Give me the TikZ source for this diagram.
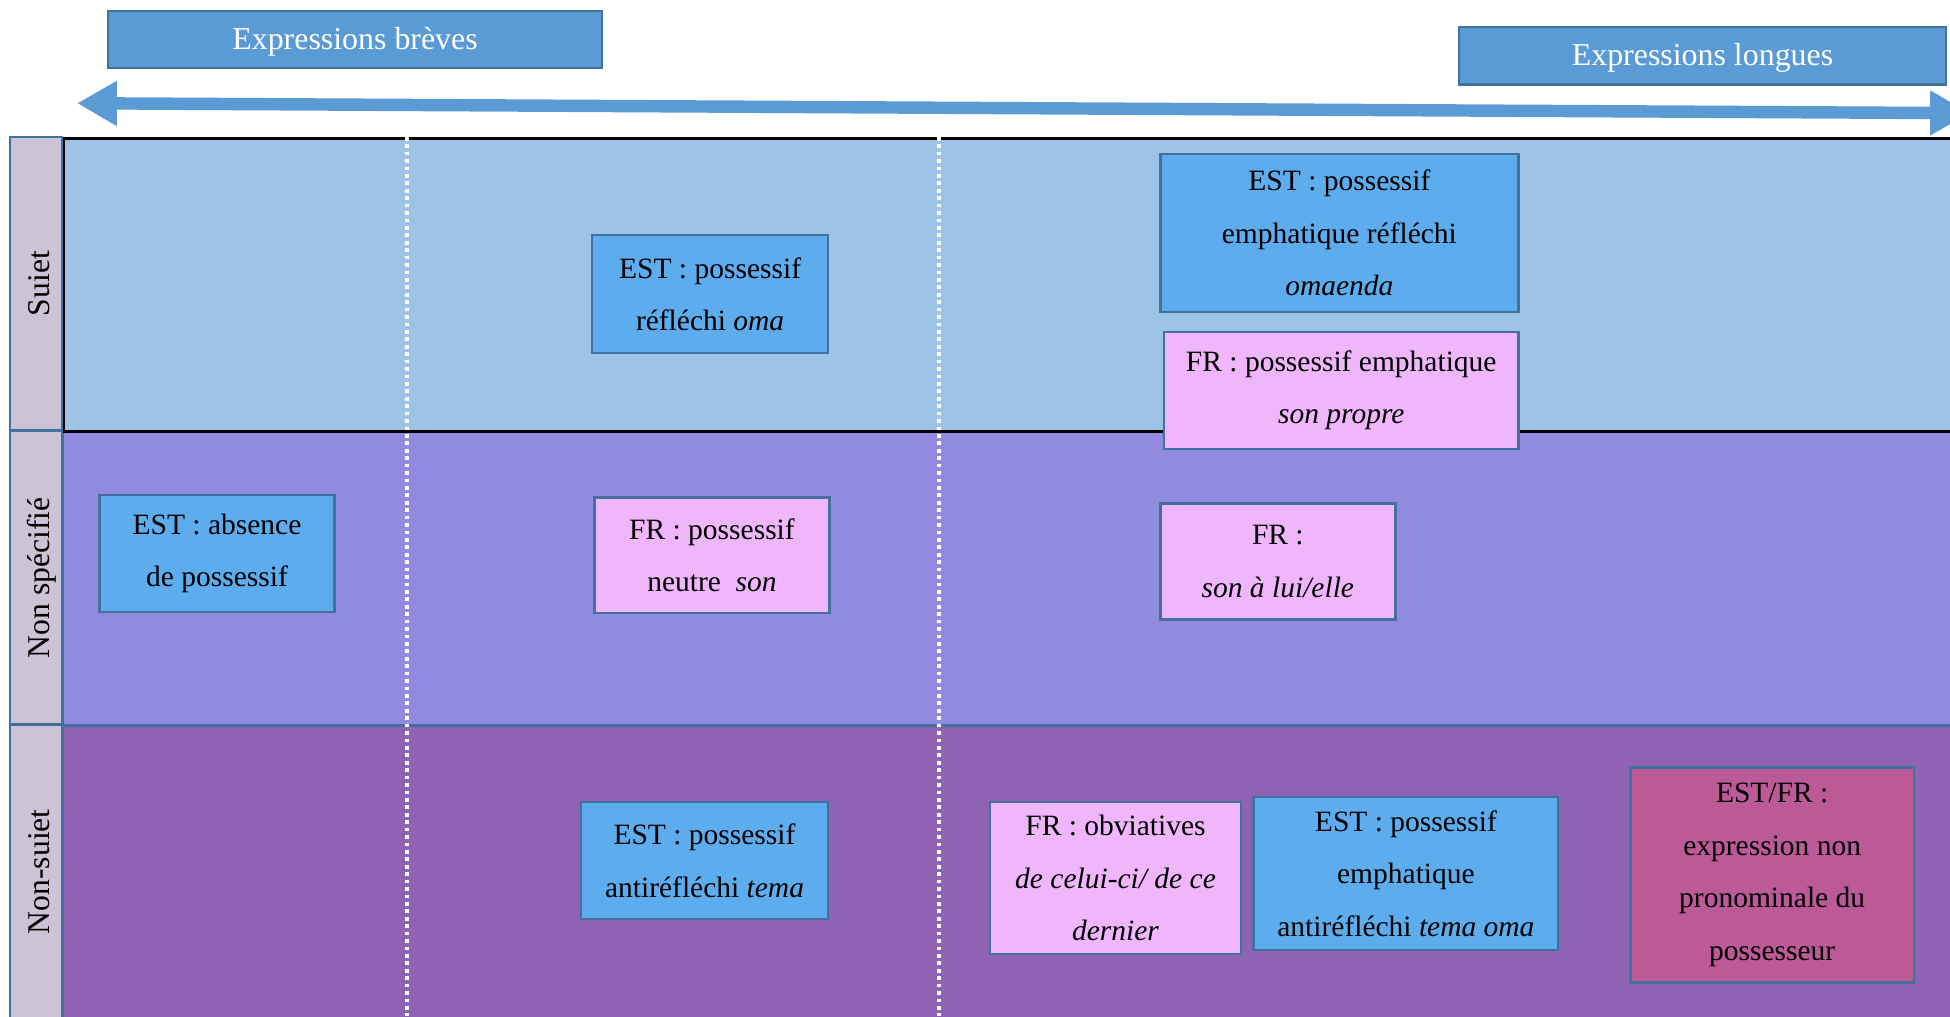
\documentclass[tikz,border=0pt]{standalone}
\usepackage{fontspec}
\setmainfont{Liberation Serif}
\usetikzlibrary{positioning, arrows.meta}
\definecolor{titlebg}{HTML}{5B9BD5}
\definecolor{edge}{HTML}{41719C}
\definecolor{rowA}{HTML}{9DC3E6}
\definecolor{rowB}{HTML}{908BDE}
\definecolor{rowC}{HTML}{9062B3}
\definecolor{labbg}{HTML}{CCC3D6}
\definecolor{estbg}{HTML}{5DADEE}
\definecolor{frbg}{HTML}{EFB6FC}
\definecolor{bothbg}{HTML}{BC5A98}

\begin{document}
\begin{tikzpicture}[x=0.02cm, y=-0.02cm,
    every node/.style={font=\fontsize{13.5}{24}\selectfont, inner sep=0pt},
    header/.style={draw=edge, line width=1pt, fill=titlebg, text=white,
      font=\fontsize{14.6}{18}\selectfont, minimum height=0.92cm,
      text height=9pt, text depth=0pt},
    rowcell/.style={draw=edge, line width=1pt, minimum width=30.4cm,
      minimum height=4.72cm, anchor=north west},
    labcell/.style={draw=edge, line width=1pt, fill=labbg, rotate=90,
      minimum width=4.72cm, minimum height=0.84cm, font=\fontsize{14.5}{18}\selectfont,
      text height=12.6pt, text depth=0pt},
    box/.style={draw=edge, line width=1.1pt, align=center},
    est/.style={box, fill=estbg},
    fr/.style={box, fill=frbg},
    both/.style={box, fill=bothbg},
    sepline/.style={white, line width=1.7pt, dash pattern=on 1.7pt off 1.7pt},
    axis/.style={{Triangle[length=0.64cm, width=0.68cm]}-{Triangle[length=0.64cm, width=0.68cm]},
      titlebg, line width=0.2cm}
]
  \useasboundingbox (0,0) rectangle (1568,817);

  % rows of the table
  \node[rowcell, fill=rowB] (rownonspec) at (50,346) {};
  \node[rowcell, fill=rowC] (rownonsuj) at (50,583) {};
  \node[rowcell, fill=rowA, draw=black, line width=1.4pt] (rowsuj) at (50,110) {};

  \node[labcell] (labsuj) at (29,228) {Suiet};
  \node[labcell] (labnonspec) at (29,464.5) {Non spécifié};
  \node[labcell] (labnonsuj) at (29,701) {Non-suiet};

  \draw[sepline] (327,110) -- (327,817);
  \draw[sepline] (755,110) -- (755,817);

  % length scale
  \node[header, minimum width=7.94cm] (breves) at (285.5,32) {Expressions brèves};
  \node[header, minimum width=7.84cm] (longues) at (1369,45) {Expressions longues};
  \coordinate (court) at (62,83);
  \coordinate (long) at (1584,91);
  \draw[axis] (court) -- (long);

  % sujet
  \node[est, minimum width=3.8cm, minimum height=1.9cm] (refl) at (571,236.5)
    {EST : possessif\\réfléchi \textit{oma}};
  \node[est, minimum width=5.76cm, minimum height=2.54cm] (emphrefl) at (1077,187.5)
    {EST : possessif\\emphatique réfléchi\\\textit{omaenda}};
  \node[fr, minimum width=5.7cm, minimum height=1.88cm,
    below=0.28cm of emphrefl.south east, anchor=north east] (propre)
    {FR : possessif emphatique\\\textit{son propre}};

  % non specifie
  \node[est, minimum width=3.78cm, minimum height=1.88cm] (absence) at (174.5,445)
    {EST : absence\\de possessif};
  \node[fr, minimum width=3.78cm, minimum height=1.86cm] (neutre) at (572.5,446.5)
    {FR : possessif\\neutre\enspace\textit{son}};
  \node[fr, minimum width=3.78cm, minimum height=1.86cm] (alui) at (1027.5,451.5)
    {FR :\\\textit{son à lui/elle}};

  % non sujet
  \node[est, minimum width=3.98cm, minimum height=1.88cm] (antirefl) at (566.5,692)
    {EST : possessif\\antiréfléchi \textit{tema}};
  \node[fr, minimum width=4.04cm, minimum height=2.44cm] (obviat) at (897,706)
    {FR : obviatives\\\textit{de celui-ci/ de ce}\\\textit{dernier}};
  \node[est, minimum width=4.9cm, minimum height=2.46cm] (emphanti) at (1130.5,702.5)
    {EST : possessif\\emphatique\\antiréfléchi \textit{tema oma}};
  \node[both, minimum width=4.56cm, minimum height=3.46cm] (nonpron) at (1425,703.5)
    {EST/FR :\\expression non\\pronominale du\\possesseur};
\end{tikzpicture}
\end{document}
